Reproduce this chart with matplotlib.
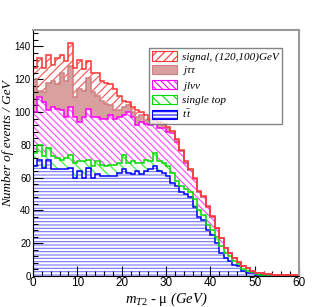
import numpy as np
import matplotlib
matplotlib.use("Agg")
import matplotlib.pyplot as plt
from matplotlib.patches import Patch

# ---- data (events / GeV, 1 GeV bins from 0 to 60) ----
edges = np.arange(0, 61, 1)

ttbar = [67, 71, 66, 71, 65, 65, 65, 65, 66, 60, 64, 60, 66, 60, 62, 61, 61, 61, 61, 63,
         65, 63, 62, 64, 62, 64, 65, 67, 64, 63, 61, 57, 55, 51, 50, 48, 42, 36, 34, 28,
         25, 20, 14, 11, 9, 7, 6, 3, 2, 1.6, 0.8, 0.6, 0.3, 0.3, 0.2, 0.2, 0.1, 0.1, 0.1, 0.05]

single_top = [8, 9, 7, 7, 8, 7, 6, 7, 8, 9, 6, 10, 5, 7, 8, 7, 6, 7, 7, 6,
              9, 6, 8, 5, 7, 7, 5, 8, 6, 6, 6, 6, 3, 4, 3, 3, 5, 4, 3, 3,
              3, 4, 4, 3, 3, 2, 1.5, 1, 1, 0.6, 0.4, 0.3, 0.2, 0.15, 0.1, 0.1, 0.1, 0.1, 0.05, 0.05]

jlvv = [25, 29, 33, 23, 30, 30, 30, 25, 29, 28, 24, 27, 31, 30, 27, 28, 29, 30, 28, 28,
        24, 31, 27, 23, 25, 22, 22, 18, 20, 21, 21, 24, 24, 21, 16, 13.5, 12, 11, 11, 11,
        8, 5, 5, 3, 2, 2, 1, 2, 2, 0.8, 0.8, 0.7, 0.8, 0.55, 0.6, 0.5, 0.5, 0.4, 0.35, 0.3]

jtautau = [20, 4, 6, 17, 16, 15, 23, 22, 25, 12, 20, 16, 19, 15, 13, 11, 9, 6, 5, 4,
           5, 4, 3, 5, 4, 2, 3, 3, 3, 2, 2, 0.6, 0.5, 0.5, 0.4, 0.4, 0.3, 0.3, 0.2, 0.2,
           0.2, 0.1, 0.1, 0.1, 0.1, 0.05, 0.05, 0.05, 0.05, 0.05, 0, 0, 0, 0, 0, 0, 0, 0, 0, 0]

signal = [7, 20, 15, 17, 10, 16, 11, 12, 14, 18, 18, 13, 10, 12, 14, 12, 13, 13, 13, 9,
          4, 2, 3, 4, 2, 3, 1, 1, 1, 1, 1, 1, 0.8, 0.6, 0.5, 0.5, 0.4, 0.3, 0.3, 0.2,
          0.2, 0.2, 0.1, 0.1, 0.1, 0.1, 0.05, 0.05, 0.05, 0.05, 0, 0, 0, 0, 0, 0, 0, 0, 0, 0]

labels = ["signal, (120,100)GeV", r"j$\tau\tau$", r"jl$\nu\nu$", "single top", r"$t\,\bar{t}$"]

# ---- style ----
plt.rcParams["hatch.linewidth"] = 0.8
plt.rcParams["mathtext.fontset"] = "custom"
plt.rcParams["mathtext.rm"] = "Liberation Serif"
plt.rcParams["mathtext.it"] = "Liberation Serif:italic"
plt.rcParams["mathtext.default"] = "it"

fig = plt.figure(figsize=(3.32, 3.07), dpi=100)
ax = fig.add_axes([0.0994, 0.101, 0.8012, 0.801])

# stacking from bottom: ttbar, single top, jlvv, jtautau, signal
layers = [
    (ttbar, dict(hatch="-----", hc="#7373ff", lc="#0000ff", fc="white")),
    (single_top, dict(hatch="\\\\\\", hc="#33ee33", lc="#00dd00", fc="white")),
    (jlvv, dict(hatch="\\\\\\\\\\", hc="#ff44ff", lc="#ff00ff", fc="white")),
    (jtautau, dict(hatch=None, hc="#cc7777", lc="#d08080", fc="#d9a0a0")),
    (signal, dict(hatch="////", hc="#ff5050", lc="#ff3333", fc="white")),
]

bottom = np.zeros(len(edges) - 1)
tops = []
for vals, st in layers:
    top = bottom + np.asarray(vals, dtype=float)
    ax.stairs(top, edges, baseline=bottom, fill=True, facecolor=st["fc"],
              edgecolor=st["hc"], hatch=st["hatch"], linewidth=0, zorder=1)
    tops.append((top, st["lc"]))
    bottom = top

for top, lc in tops:
    ax.stairs(top, edges, baseline=None, color=lc, linewidth=1.1, zorder=2)

ax.set_xlim(0, 60)
ax.set_ylim(0, 150)
ax.set_xticks(np.arange(0, 61, 10))
ax.set_xticks(np.arange(0, 61, 2), minor=True)
ax.set_yticks(np.arange(0, 141, 20))
ax.set_yticks(np.arange(0, 150, 4), minor=True)
ax.tick_params(which="both", direction="in", top=False, right=False)
ax.tick_params(axis="x", labelsize=8.5, pad=1)
ax.tick_params(axis="y", labelsize=7, pad=1.5)
ax.tick_params(which="major", length=7, width=0.8)
ax.tick_params(which="minor", length=3.5, width=0.8)
for lab in ax.get_xticklabels() + ax.get_yticklabels():
    lab.set_family("Liberation Sans")

ax.spines["top"].set_color("#999999")
ax.spines["right"].set_color("#999999")
ax.spines["top"].set_linewidth(1.5)
ax.spines["right"].set_linewidth(1.5)

ax.set_xlabel(r"$m_{T2}$ - $\mathrm{\mu}$ (GeV)", fontsize=10.5,
              family="Liberation Serif", style="italic")
ax.set_ylabel("Number of events / GeV", fontsize=9.5,
              family="Liberation Serif", style="italic")
ax.xaxis.set_label_coords(0.5, -0.058)
ax.yaxis.set_label_coords(-0.072, 0.54)

handles = []
for vals, st in reversed(layers):
    handles.append(Patch(facecolor=st["fc"], edgecolor=st["lc"], hatch=st["hatch"],
                         linewidth=0.8))
leg = ax.legend(handles, labels, loc="upper left", bbox_to_anchor=(0.436, 0.927),
                frameon=True, fancybox=False, shadow=False, ncol=1,
                prop=dict(family="Liberation Serif", style="italic", size=8),
                handlelength=2.2, handleheight=0.9, labelspacing=0.2,
                borderpad=0.3, handletextpad=0.45, borderaxespad=0)
leg.get_frame().set_edgecolor("#666666")
leg.get_frame().set_linewidth(1.0)

fig.savefig("out.png", dpi=100, facecolor="white")
